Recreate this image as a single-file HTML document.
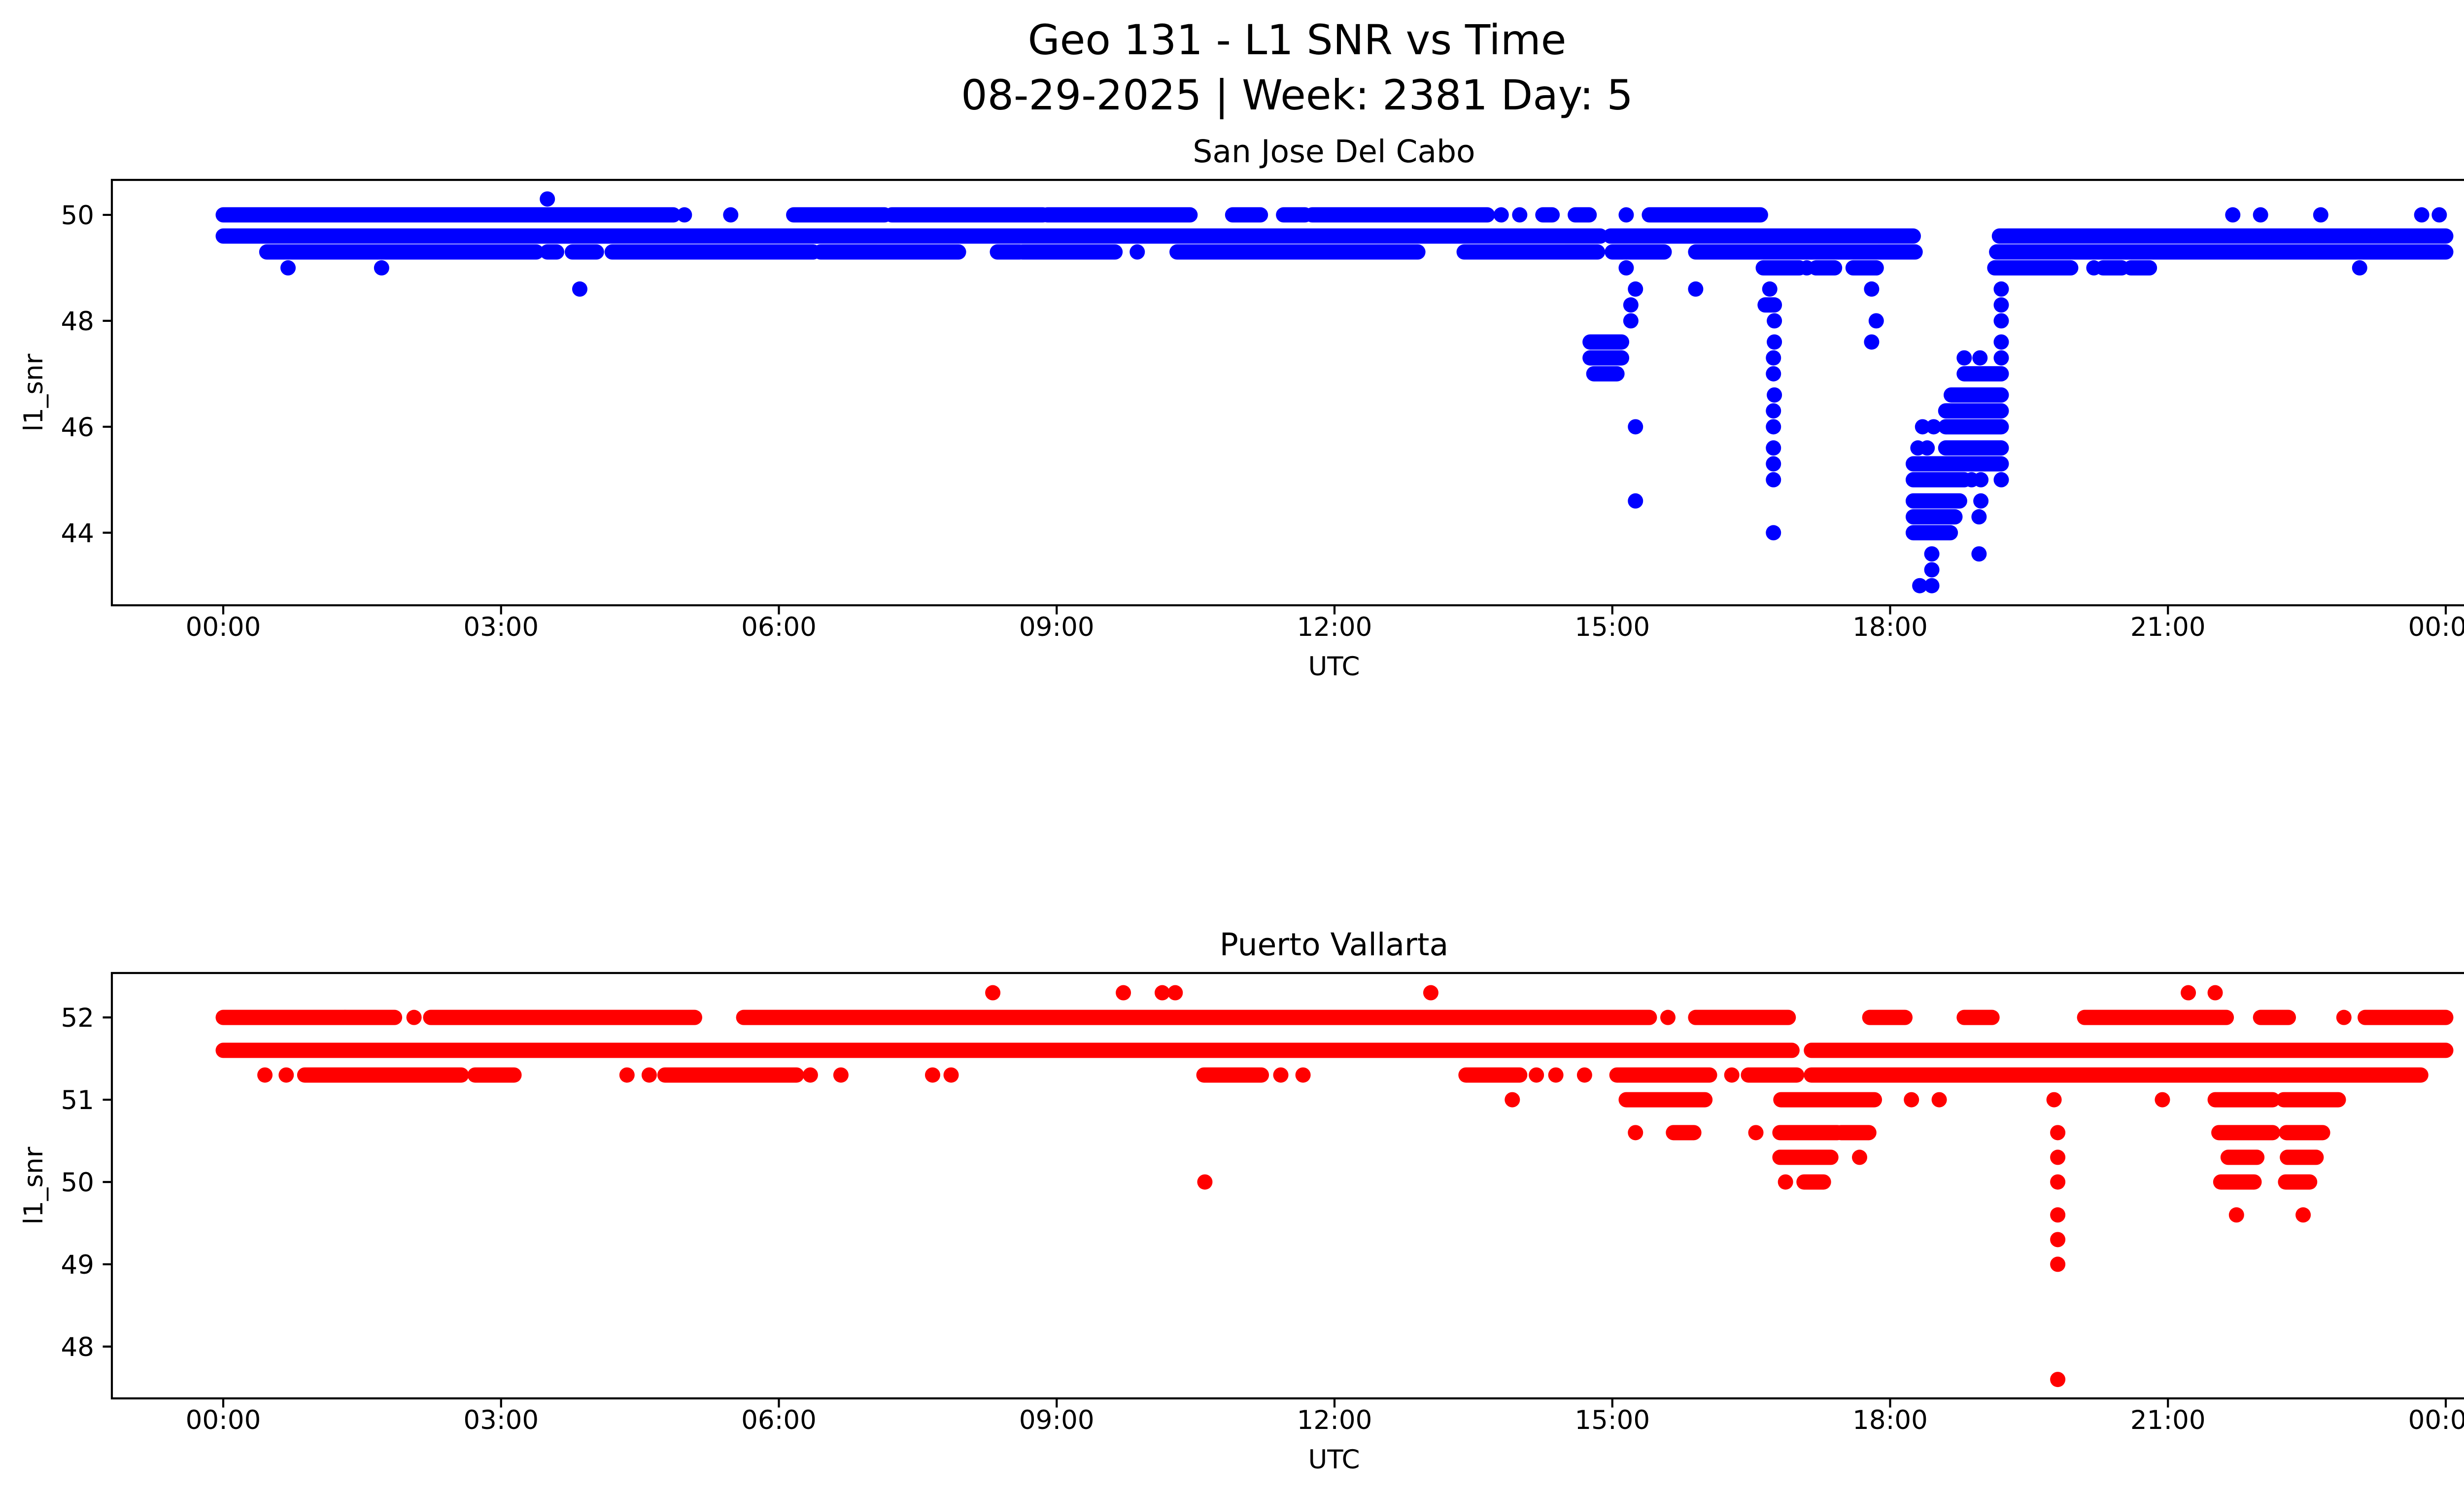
<!DOCTYPE html>
<html><head><meta charset="utf-8"><style>
html,body{margin:0;padding:0;background:#fff;width:5226px;height:3033px;overflow:hidden}
svg{display:block;font-family:"DejaVu Sans","Liberation Sans",sans-serif}
</style></head><body>
<svg id="fig" width="5226" height="3033" viewBox="0 0 5226 3033" xmlns="http://www.w3.org/2000/svg">
<text x="2632" y="110" font-size="84" text-anchor="middle">Geo 131 - L1 SNR vs Time</text>
<text x="2632" y="222" font-size="84" text-anchor="middle">08-29-2025 | Week: 2381 Day: 5</text>
</svg>
<script>
// x tick positions (hours) and labels
const xTickHours=[0,3,6,9,12,15,18,21,24];
const xTickLabels=["00:00","03:00","06:00","09:00","12:00","15:00","18:00","21:00","00:00"];
// San Jose Del Cabo: runs of consecutive samples [startHour,endHour,snr]
const sjRuns=[
[0,4.86,50],[6.16,7.14,50],[7.22,8.85,50],[8.9,10.44,50],[10.9,11.2,50],[11.45,11.68,50],[11.76,13.65,50],[14.25,14.35,50],[14.6,14.75,50],[15.4,16.6,50],
[0,14.87,49.6],[14.98,18.25,49.6],[19.18,24,49.6],
[0.47,3.38,49.3],[3.5,3.6,49.3],[3.77,4.03,49.3],[4.2,6.37,49.3],[6.45,7.94,49.3],[8.36,8.6,49.3],[8.63,9.63,49.3],[10.3,12.9,49.3],[13.4,14.84,49.3],[15.0,15.56,49.3],[15.9,18.27,49.3],[19.15,24,49.3],
[16.63,17.02,49],[17.2,17.4,49],[17.6,17.85,49],[19.13,19.95,49],[20.3,20.5,49],[20.6,20.8,49],
[16.65,16.75,48.3],
[14.76,15.1,47.6],[14.76,15.1,47.3],[14.8,15.05,47],[18.8,19.2,47],
[18.66,19.2,46.6],[18.6,19.2,46.3],[18.6,19.2,46],[18.6,19.2,45.6],[18.25,19.2,45.3],
[18.25,18.8,45],[18.25,18.75,44.6],[18.25,18.7,44.3],[18.25,18.65,44]];
// San Jose single samples [hour,snr]
const sjPts=[[4.98,50],[5.48,50],[13.8,50],[14.0,50],[15.15,50],[21.7,50],[22.0,50],[22.65,50],[23.74,50],[23.93,50],[3.5,50.3],
[9.87,49.3],[0.7,49],[1.71,49],[15.15,49],[17.1,49],[20.2,49],[23.07,49],
[3.85,48.6],[15.25,48.6],[15.9,48.6],[16.7,48.6],[17.8,48.6],[19.2,48.6],
[15.2,48.3],[19.2,48.3],[15.2,48],[16.75,48],[17.85,48],[19.2,48],
[16.75,47.6],[17.8,47.6],[19.2,47.6],[16.74,47.3],[18.8,47.3],[18.97,47.3],[19.2,47.3],[16.74,47],
[16.75,46.6],[16.74,46.3],[15.25,46],[16.74,46],[18.35,46],[18.47,46],
[16.74,45.6],[18.3,45.6],[18.4,45.6],[16.74,45.3],[16.74,45],[18.88,45],[18.98,45],[19.2,45],
[15.25,44.6],[18.98,44.6],[18.96,44.3],[16.74,44],[18.45,43.6],[18.96,43.6],[18.45,43.3],[18.32,43],[18.45,43]];
// Puerto Vallarta runs
const pvRuns=[
[0,1.31,52],[1.32,1.85,52],[2.24,5.09,52],[5.62,15.4,52],[15.9,16.9,52],[17.78,18.16,52],[18.8,19.1,52],[20.1,21.63,52],[22.0,22.3,52],[23.13,24,52],
[0,16.94,51.6],[17.15,24,51.6],
[0.88,2.57,51.3],[2.72,3.14,51.3],[4.77,6.19,51.3],[10.59,11.21,51.3],[13.42,14.0,51.3],[15.05,16.05,51.3],[16.47,16.99,51.3],[17.15,23.73,51.3],
[15.15,16.0,51],[16.82,17.83,51],[21.51,22.13,51],[22.25,22.84,51],
[15.66,15.88,50.6],[16.81,17.43,50.6],[17.47,17.77,50.6],[21.55,22.13,50.6],[22.28,22.67,50.6],
[16.81,17.36,50.3],[21.65,21.96,50.3],[22.29,22.6,50.3],
[17.07,17.28,50],[21.57,21.93,50],[22.27,22.53,50]];
// Puerto Vallarta single samples
const pvPts=[[8.31,52.3],[9.72,52.3],[10.14,52.3],[10.28,52.3],[13.04,52.3],[21.22,52.3],[21.51,52.3],
[2.06,52],[15.6,52],[22.9,52],
[0.45,51.3],[0.68,51.3],[4.36,51.3],[4.6,51.3],[6.34,51.3],[6.67,51.3],[7.66,51.3],[7.86,51.3],[11.42,51.3],[11.66,51.3],[14.18,51.3],[14.39,51.3],[14.7,51.3],[16.29,51.3],
[13.92,51],[18.23,51],[18.53,51],[19.77,51],[20.94,51],
[15.25,50.6],[16.55,50.6],[19.81,50.6],[17.67,50.3],[19.81,50.3],
[10.6,50],[16.87,50],[19.81,50],[19.81,49.6],[21.74,49.6],[22.46,49.6],[19.81,49.3],[19.81,49],[19.81,47.6]];

const svg=document.getElementById('fig');
const NS='http://www.w3.org/2000/svg';
function mk(tag,attrs,parent){const e=document.createElementNS(NS,tag);for(const k in attrs)e.setAttribute(k,attrs[k]);(parent||svg).appendChild(e);return e;}
function panel(cfg){
  const L=227,R=5187,T=cfg.top,B=cfg.top+863;
  const hx0=453,hx24=4963;
  const xs=h=>hx0+h/24*(hx24-hx0);
  const ys=v=>B-(v-cfg.ymin)/(cfg.ymax-cfg.ymin)*(B-T);
  const g=mk('g',{});
  
  
  const pts=mk('g',{stroke:cfg.color,fill:cfg.color,'stroke-width':31,'stroke-linecap':'round'},g);
  
  
  cfg.runs.forEach(r=>{const l=mk('line',{x1:xs(r[0]),x2:xs(r[1]),y1:ys(r[2]),y2:ys(r[2])},pts);
    
    });
  cfg.pts.forEach(p=>{const c=mk('circle',{cx:xs(p[0]),cy:ys(p[1]),r:15.5,stroke:'none'},pts);
    
    });
  const fr=mk('rect',{x:L,y:T,width:R-L,height:B-T,fill:'none',stroke:'#000','stroke-width':4.2},g);
  
  
  xTickHours.forEach((h,i)=>{mk('line',{x1:xs(h),x2:xs(h),y1:B,y2:B+18.5,stroke:'#000','stroke-width':4.2},g);
    const t=mk('text',{x:xs(h),y:B+62,'font-size':53,'text-anchor':'middle'},g);t.textContent=xTickLabels[i];
    
    });
  cfg.yticks.forEach(v=>{mk('line',{x1:L-18.5,x2:L,y1:ys(v),y2:ys(v),stroke:'#000','stroke-width':4.2},g);
    const t=mk('text',{x:L-36,y:ys(v)+19,'font-size':53,'text-anchor':'end'},g);t.textContent=v;
    
    });
  const xl=mk('text',{x:(L+R)/2,y:B+142,'font-size':53,'text-anchor':'middle'},g);xl.textContent='UTC';
  
  
  const yl=mk('text',{x:0,y:0,'font-size':53,'text-anchor':'middle',transform:`translate(86,${(T+B)/2}) rotate(-90)`},g);yl.textContent='l1_snr';
  
  
  const tt=mk('text',{x:(L+R)/2,y:T-36,'font-size':63,'text-anchor':'middle'},g);tt.textContent=cfg.title;
  
  
}
panel({name:'san-jose',title:'San Jose Del Cabo',top:365,ymin:42.63,ymax:50.66,yticks:[44,46,48,50],color:'#0000ff',runs:sjRuns,pts:sjPts});
panel({name:'puerto-vallarta',title:'Puerto Vallarta',top:1974,ymin:47.37,ymax:52.54,yticks:[48,49,50,51,52],color:'#ff0000',runs:pvRuns,pts:pvPts});
</script>
</body></html>
